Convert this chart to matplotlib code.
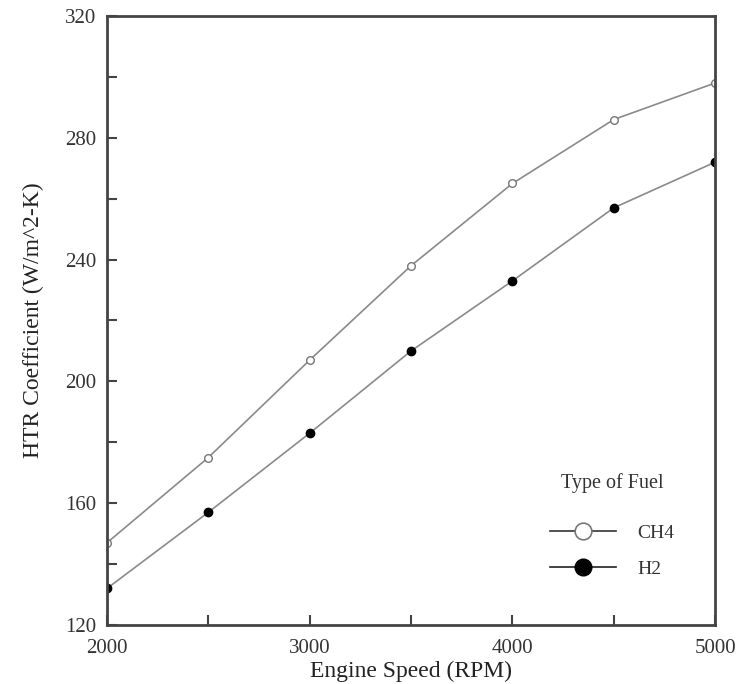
import matplotlib
matplotlib.use("Agg")
import matplotlib.pyplot as plt
from matplotlib.lines import Line2D
from matplotlib.ticker import MultipleLocator

# data
engine_speed = [2000, 2500, 3000, 3500, 4000, 4500, 5000]
htr_ch4 = [147, 175, 207, 238, 265, 286, 298]
htr_h2 = [132, 157, 183, 210, 233, 257, 272]

plt.rcParams['font.family'] = ['Liberation Serif', 'DejaVu Serif']

fig = plt.figure(figsize=(7.38, 6.84), dpi=100)
ax = fig.add_axes([0.145, 0.0863, 0.824, 0.8903])

line_col = '#8a8a8a'
ax.plot(engine_speed, htr_ch4, color=line_col, lw=1.2, marker='o',
        ms=5.5, mfc='white', mec='#777777', mew=1.0, zorder=3)
ax.plot(engine_speed, htr_h2, color=line_col, lw=1.2, marker='o',
        ms=6, mfc='black', mec='black', zorder=3)

ax.set_xlim(2000, 5000)
ax.set_ylim(120, 320)
ax.xaxis.set_major_locator(MultipleLocator(1000))
ax.xaxis.set_minor_locator(MultipleLocator(500))
ax.yaxis.set_major_locator(MultipleLocator(40))
ax.yaxis.set_minor_locator(MultipleLocator(20))

for sp in ax.spines.values():
    sp.set_linewidth(2.0)
    sp.set_color('#444444')
    sp.set_zorder(5)

ax.tick_params(which='both', direction='in', length=7, width=1.5,
               color='#444444', labelsize=15, labelcolor='#333333')
ax.tick_params(axis='x', which='both', pad=10)
ax.tick_params(axis='y', which='both', pad=8)

ax.set_xlabel('Engine Speed (RPM)', fontsize=17, color='#222222', labelpad=2)
ax.set_ylabel('HTR Coefficient (W/m^2-K)', fontsize=17, color='#222222',
              labelpad=15)

handles = [
    Line2D([], [], color='#333333', lw=1.2, marker='o', ms=12,
           mfc='white', mec='#777777', mew=1.2),
    Line2D([], [], color='#222222', lw=1.2, marker='o', ms=12,
           mfc='black', mec='black'),
]
leg = ax.legend(handles, ['CH4', 'H2'], title='Type of Fuel\n',
                loc='lower right', bbox_to_anchor=(0.962, 0.048),
                frameon=False, fontsize=14, title_fontsize=14.5,
                handlelength=3.4, handletextpad=1.1, labelspacing=0.95)
leg.get_title().set_color('#333333')
leg.get_title().set_linespacing(0.6)
for t in leg.get_texts():
    t.set_color('#333333')

fig.savefig('out.png', dpi=100)
